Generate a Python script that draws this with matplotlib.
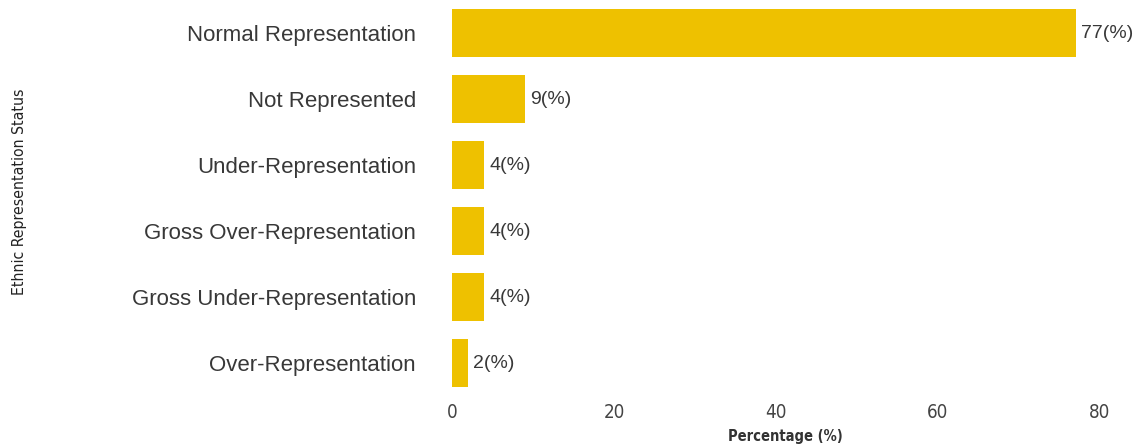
import matplotlib.pyplot as plt
import numpy as np

categories = ["Normal Representation", "Not Represented", "Under-Representation",
              "Gross Over-Representation", "Gross Under-Representation",
              "Over-Representation"]
percent = [77, 9, 4, 4, 4, 2]
xticks = [0, 20, 40, 60, 80]

plt.rcParams['font.family'] = ['Liberation Sans', 'DejaVu Sans']
narrow = ['Liberation Sans Narrow', 'DejaVu Sans']

fig = plt.figure(figsize=(11.42, 4.46), dpi=100)
ax = fig.add_axes([452/1142, 50/446, (1100-452)/1142, 396/446])

y = np.arange(len(categories))
bars = ax.barh(y, percent, height=0.73, color='#EEC100')
for b, v in zip(bars, percent):
    ax.text(b.get_width() + 0.6, b.get_y() + b.get_height()/2, f"{v}(%)",
            va='center', ha='left', fontsize=14, color='#383838')

ax.set_ylim(len(categories) - 0.5, -0.5)
ax.set_xlim(0, 80)
ax.set_yticks(y)
ax.set_yticklabels(categories, fontsize=16, color='#383838')
ax.set_xticks(xticks)
ax.set_xticklabels([str(t) for t in xticks], fontsize=13.5, color='#444444',
                   fontstretch='condensed', family=narrow)
ax.tick_params(length=0, axis='y', pad=26)
ax.tick_params(length=0, axis='x', pad=5)
for s in ax.spines.values():
    s.set_visible(False)

fig.text(785/1142, 1 - 436/446, "Percentage (%)", ha='center', va='center', fontsize=10.5,
         fontweight='bold', fontstretch='condensed', family=narrow, color='#333333')
fig.text(20/1142, 1 - 192/446, "Ethnic Representation Status", rotation=90, ha='center', va='center',
         fontsize=11.3, fontstretch='condensed', family=narrow, color='#222222')

fig.savefig("out.png", dpi=100)
